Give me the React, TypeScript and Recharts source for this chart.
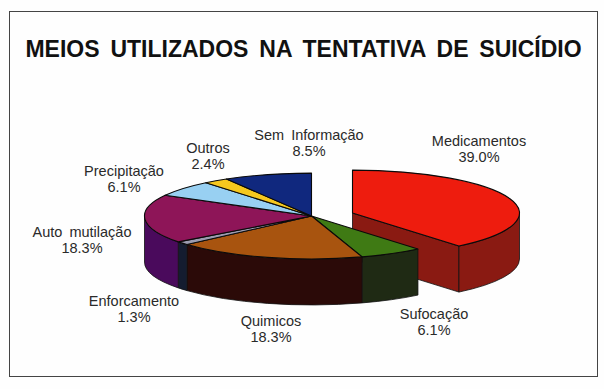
import React from "react";
import { PieChart, Pie } from "recharts";

const TITLE = "MEIOS UTILIZADOS NA TENTATIVA DE SUICÍDIO";
const categories = ["Medicamentos", "Sufocação", "Quimicos", "Enforcamento", "Auto mutilação", "Precipitação", "Outros", "Sem Informação"];
const values = [39.0, 6.1, 18.3, 1.3, 18.3, 6.1, 2.4, 8.5];
const topColors = ["#ee1c0e", "#3f7a14", "#a8540f", "#9c9cb0", "#8e1558", "#98d0f2", "#f6c81e", "#10287e"];
const sideColors = ["#8a1a12", "#1f2a14", "#2b0a08", "#141c30", "#4a0a5c", "#5a86a0", "#a08010", "#0a1a50"];
const labelCenters: [number, number][] = [
  [479, 149], [434, 322], [271, 329], [134, 309], [82, 240], [124, 179], [208, 156], [309, 143],
];

const W = 604;
const H = 389;
const CX = 311.5;
const CY = 216;
const RX = 167;
const RY_RATIO = 0.257;
const DEPTH = 46;
const EXPLODE: [number, number] = [41, -3];

const table = categories.map((name, i) => ({ name, value: values[i], fill: topColors[i], side: sideColors[i] }));
const rad = (a: number) => (a * Math.PI) / 180;

function Slice3D(p: any) {
  const idx = categories.indexOf(p.name);
  const ex = idx === 0 ? EXPLODE[0] : 0;
  const ey = idx === 0 ? EXPLODE[1] : 0;
  const cx = p.cx + ex;
  const cy = p.cy + ey;
  const rx = p.outerRadius;
  const ry = p.outerRadius * RY_RATIO;
  const pt = (a: number, d = 0): [number, number] => [cx + rx * Math.cos(rad(a)), cy - ry * Math.sin(rad(a)) + d];
  const [sx, sy] = pt(p.startAngle);
  const [ex2, ey2] = pt(p.endAngle);
  const large = Math.abs(p.startAngle - p.endAngle) > 180 ? 1 : 0;
  const top = `M${cx},${cy} L${sx},${sy} A${rx},${ry} 0 ${large} 1 ${ex2},${ey2} Z`;

  const from = Math.min(p.startAngle, 0);
  const to = Math.max(p.endAngle, -180);
  let side: string | null = null;
  if (from > to) {
    const [a1, b1] = pt(from);
    const [a2, b2] = pt(to);
    side = `M${a1},${b1} A${rx},${ry} 0 0 1 ${a2},${b2} L${a2},${b2 + DEPTH} A${rx},${ry} 0 0 0 ${a1},${b1 + DEPTH} Z`;
  }
  const cut = idx === 0 ? `M${cx},${cy} L${ex2},${ey2} L${ex2},${ey2 + DEPTH} L${cx},${cy + DEPTH} Z` : null;
  const sideFill = table[idx].side;
  return (
    <g>
      {cut && <path d={cut} fill={sideFill} stroke="#111" strokeWidth={0.8} />}
      {side && <path d={side} fill={sideFill} stroke="#111" strokeWidth={0.8} />}
      <path d={top} fill={p.fill} stroke="#0a0a0a" strokeWidth={1.1} strokeLinejoin="round" />
    </g>
  );
}

function SliceLabel(p: any) {
  const idx = categories.indexOf(p.name);
  const [x, y] = labelCenters[idx];
  return (
    <text x={x} textAnchor="middle" fontFamily="Liberation Sans" fontSize={14.5} fill="#2a2a2a" wordSpacing={3}>
      <tspan x={x} y={y - 3}>{p.name}</tspan>
      <tspan x={x} y={y + 13}>{values[idx].toFixed(1)}%</tspan>
    </text>
  );
}

export default function App() {
  return (
    <div style={{ position: "absolute", left: 0, top: 0, width: W, height: H, background: "#fefefe" }}>
      <div style={{ position: "absolute", left: 9, top: 11, width: 587, height: 364, border: "1.5px solid #444" }} />
      <div style={{ position: "absolute", left: 0, top: 0 }}>
        <PieChart width={W} height={H} margin={{ top: 0, right: 0, bottom: 0, left: 0 }}>
          <text x={303.5} y={57} textAnchor="middle" fontFamily="Liberation Sans" fontWeight="bold" fontSize={23} fill="#111" wordSpacing={4.5}>
            {TITLE}
          </text>
          <Pie
            data={table}
            dataKey="value"
            nameKey="name"
            cx={CX}
            cy={CY}
            innerRadius={0}
            outerRadius={RX}
            startAngle={90}
            endAngle={-270}
            paddingAngle={0}
            isAnimationActive={false}
            shape={Slice3D}
            label={SliceLabel}
            labelLine={false}
            stroke="none"
          />
        </PieChart>
      </div>
    </div>
  );
}
